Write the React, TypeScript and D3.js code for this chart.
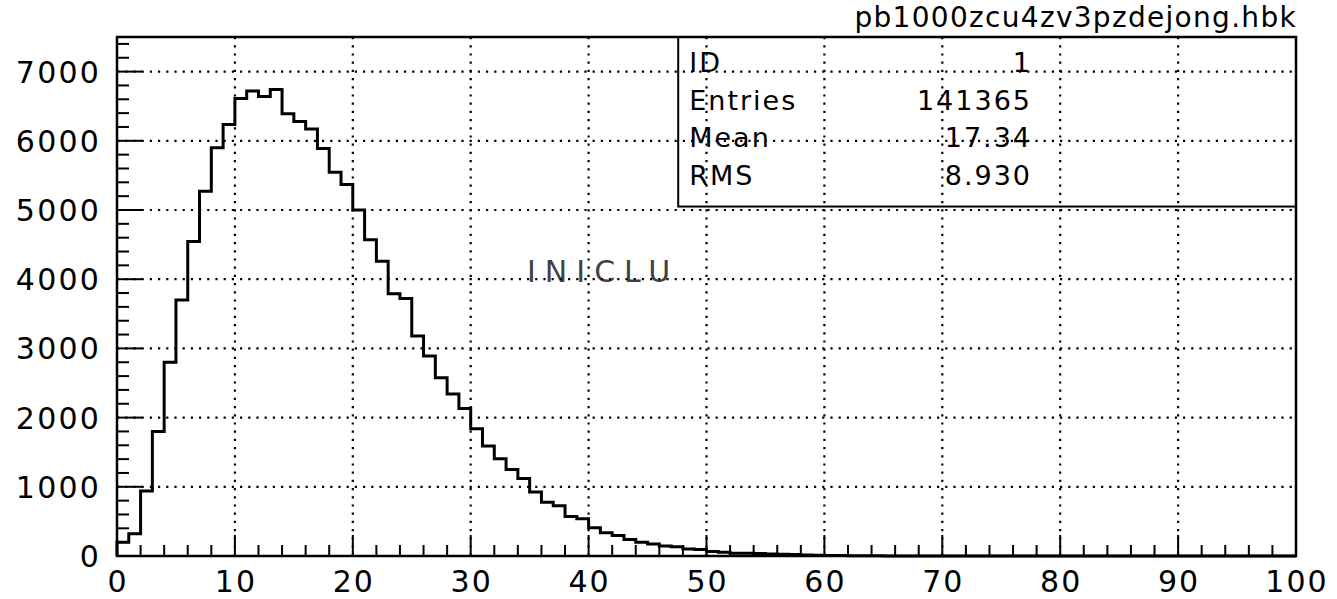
import React from "react";
import * as d3 from "d3";

const binCounts: number[] = [
  200, 320, 940, 1800, 2800, 3700, 4545, 5270, 5900, 6235,
  6610, 6720, 6640, 6740, 6390, 6280, 6170, 5890, 5545, 5370,
  5000, 4570, 4260, 3790, 3720, 3180, 2890, 2575, 2340, 2130,
  1840, 1590, 1405, 1250, 1120, 925, 775, 725, 570, 540,
  410, 335, 295, 240, 200, 175, 145, 135, 100, 95,
  65, 55, 40, 38, 35, 30, 25, 22, 15, 12,
  8, 6, 4, 3, 2, 0, 0, 0, 0, 0,
  0, 0, 0, 0, 0, 0, 0, 0, 0, 0,
  0, 0, 0, 0, 0, 0, 0, 0, 0, 0,
  0, 0, 0, 0, 0, 0, 0, 0, 0, 0,
];
const xTickLabels: number[] = [0, 10, 20, 30, 40, 50, 60, 70, 80, 90, 100];
const yTickLabels: number[] = [0, 1000, 2000, 3000, 4000, 5000, 6000, 7000];
const statNames: string[] = ["ID", "Entries", "Mean", "RMS"];
const statValues: string[] = ["1", "141365", "17.34", "8.930"];
const title = "pb1000zcu4zv3pzdejong.hbk";
const scribble = "INICLU";

const W = 1337;
const H = 599;
const L = 117;
const R = 1296;
const T = 37;
const B = 556;

export default function App() {
  const x = d3.scaleLinear().domain([0, 100]).range([L, R]);
  const y = d3.scaleLinear().domain([0, 7500]).range([B, T]);

  const pts: [number, number][] = [[0, 0]];
  binCounts.forEach((v, i) => {
    pts.push([i, v]);
    pts.push([i + 1, v]);
  });
  pts.push([100, 0]);
  const line = d3
    .line<[number, number]>()
    .x((d) => x(d[0]))
    .y((d) => y(d[1]));

  const xMinor = d3.range(0, 101, 2);
  const yMinor = d3.range(0, 7501, 200);
  const font = "'DejaVu Sans', 'Liberation Sans', sans-serif";

  const boxL = x(47.6);
  const boxB = y(5050);
  const rowH = 37.5;

  return (
    <svg width={W} height={H} style={{ position: "absolute", left: 0, top: 0, background: "#fff" }}>
      <rect x={0} y={0} width={W} height={H} fill="#fff" />
      {/* grid */}
      {xTickLabels.slice(1, -1).map((v) => (
        <line key={"gx" + v} x1={x(v)} x2={x(v)} y1={T} y2={B} stroke="#000" strokeWidth={2.2} strokeDasharray="2.2 6" />
      ))}
      {yTickLabels.slice(1).map((v) => (
        <line key={"gy" + v} x1={L} x2={R} y1={y(v)} y2={y(v)} stroke="#000" strokeWidth={2.2} strokeDasharray="2.2 6" />
      ))}
      {/* ticks */}
      {xMinor.map((v) => (
        <line key={"tx" + v} x1={x(v)} x2={x(v)} y1={B} y2={B - (v % 10 === 0 ? 21 : 11)} stroke="#000" strokeWidth={2} />
      ))}
      {yMinor.map((v) => (
        <line key={"ty" + v} x1={L} x2={L + (v % 1000 === 0 ? 25 : 12)} y1={y(v)} y2={y(v)} stroke="#000" strokeWidth={2} />
      ))}
      {/* histogram */}
      <path d={line(pts) || ""} fill="none" stroke="#000" strokeWidth={3} strokeLinejoin="miter" />
      {/* frame */}
      <rect x={L} y={T} width={R - L} height={B - T} fill="none" stroke="#000" strokeWidth={2.5} />
      {/* labels */}
      {xTickLabels.map((v) => (
        <text key={"lx" + v} x={x(v) + 1} y={592} fontFamily={font} fontSize={30} letterSpacing={2} textAnchor="middle" fill="#000">
          {v}
        </text>
      ))}
      {yTickLabels.map((v) => (
        <text key={"ly" + v} x={101} y={y(v) + 11} fontFamily={font} fontSize={30} letterSpacing={2.2} textAnchor="end" fill="#000">
          {v}
        </text>
      ))}
      <text x={R + 1} y={27} fontFamily={font} fontSize={28} letterSpacing={1.3} textAnchor="end" fill="#000">
        {title}
      </text>
      {/* stats box */}
      <rect x={boxL} y={T} width={R - boxL} height={boxB - T} fill="none" stroke="#000" strokeWidth={2} />
      {statNames.map((n, i) => (
        <text key={"sn" + i} x={boxL + 11} y={T + 35 + i * rowH} fontFamily={font} fontSize={27} letterSpacing={2} fill="#000">
          {n}
        </text>
      ))}
      {statValues.map((v, i) => (
        <text key={"sv" + i} x={1032} y={T + 35 + i * rowH} fontFamily={font} fontSize={27} letterSpacing={2} textAnchor="end" fill="#000">
          {v}
        </text>
      ))}
      <text x={527} y={282} fontFamily={font} fontSize={30} letterSpacing={9} fill="#111" opacity={0.8}>
        {scribble}
      </text>
    </svg>
  );
}
